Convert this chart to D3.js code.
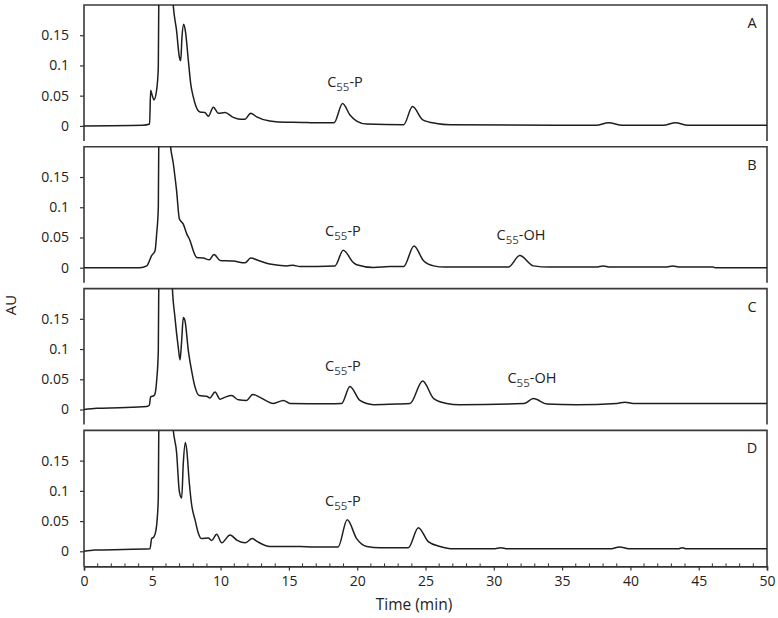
<!DOCTYPE html>
<html lang="en">
<head>
    <meta charset="UTF-8">
    <title>Chromatograms</title>
    <style>
        * { margin:0; border:0; box-sizing:border-box; }
        body { background:#fff; }
        svg text { font-family:"Open Sans", "DejaVu Sans", sans-serif; fill:#222; }
    </style>
    <script src="https://unpkg.com/d3@7.6.1/dist/d3.min.js"></script>
    <script>
        // panel names
        const panels=["A","B","C","D"];

        // retention time (min) and absorbance (AU) per trace
        const timeA=[0,4.3,4.8,4.88,5.0,5.12,5.32,5.44,5.5,6.0,6.5,6.78,6.98,7.08,7.17,7.3,7.42,7.64,7.81,8.0,8.2,8.49,8.86,9.1,9.47,9.83,10.32,10.93,11.42,11.79,12.2,12.64,13.6,14.8,15.3,17.3,18.3,18.93,19.47,19.96,20.7,23.4,24.05,24.8,25.8,26.8,37.5,38.4,39.4,42.4,43.3,44.2,50];
        const auA=[0,0.001,0.003,0.059,0.05,0.043,0.06,0.097,0.3,1.5,0.21,0.157,0.114,0.108,0.146,0.168,0.157,0.108,0.07,0.048,0.032,0.023,0.022,0.016,0.031,0.021,0.022,0.014,0.011,0.011,0.021,0.015,0.008,0.006,0.006,0.005,0.005,0.037,0.018,0.008,0.003,0.002,0.032,0.01,0.004,0.002,0.001,0.005,0.001,0.001,0.005,0.001,0.001];

        const timeB=[0,4.1,4.59,4.95,5.2,5.32,5.44,5.5,5.9,6.3,6.54,6.78,6.98,7.27,7.52,7.76,8.0,8.25,8.73,9.17,9.52,9.96,10.93,11.79,12.2,12.76,13.6,14.84,15.3,15.8,18.37,18.98,19.7,19.96,21.2,22.4,23.4,24.16,24.84,25.6,26.4,31.07,31.9,32.9,34.1,37.5,38.0,38.5,42.6,43.1,43.6,46.07,46.2,50];
        const auB=[0,0,0.003,0.02,0.028,0.056,0.1,0.3,1.5,0.21,0.172,0.127,0.081,0.072,0.056,0.045,0.028,0.017,0.016,0.013,0.022,0.012,0.011,0.008,0.016,0.012,0.006,0.003,0.004,0.002,0.003,0.029,0.009,0.005,0.0005,0.002,0.002,0.036,0.012,0.003,0.001,0.001,0.02,0.003,0.001,0.001,0.003,0.001,0.001,0.003,0.001,0.001,0,0];

        const timeC=[0,0.92,2.6,4.59,4.78,4.88,5.12,5.2,5.32,5.44,5.5,6.0,6.45,6.66,6.9,7.03,7.15,7.27,7.39,7.64,7.88,8.13,8.44,8.98,9.22,9.59,9.96,10.3,10.8,11.3,11.9,12.35,12.88,13.86,14.6,15.08,17.8,18.86,19.47,20.2,21.2,22.9,23.87,24.79,25.6,26.55,27.5,32.2,32.9,33.9,36.06,39.0,39.6,40.2,50];
        const auC=[0,0.002,0.003,0.005,0.007,0.021,0.023,0.026,0.048,0.097,0.3,1.5,0.21,0.152,0.103,0.082,0.114,0.152,0.147,0.097,0.064,0.037,0.023,0.022,0.019,0.029,0.017,0.02,0.023,0.016,0.015,0.025,0.02,0.01,0.015,0.01,0.0094,0.01,0.038,0.015,0.008,0.009,0.01,0.047,0.018,0.01,0.008,0.01,0.018,0.009,0.008,0.01,0.012,0.01,0.01];

        const timeD=[0,0.8,2.88,4.83,4.95,5.12,5.27,5.37,5.44,5.5,6.0,6.5,6.78,6.98,7.15,7.27,7.42,7.52,7.71,7.88,8.13,8.37,8.61,9.1,9.35,9.71,10.08,10.69,11.22,11.79,12.32,12.69,13.6,15.8,16.8,18.6,19.27,19.96,20.7,21.7,23.74,24.48,25.2,26.06,27.03,30.0,30.5,31.0,38.5,39.2,40.0,43.5,43.8,44.1,50];
        const auD=[0,0.002,0.003,0.004,0.021,0.024,0.035,0.057,0.09,0.3,1.5,0.21,0.163,0.099,0.088,0.146,0.18,0.168,0.113,0.077,0.052,0.03,0.021,0.022,0.018,0.028,0.014,0.027,0.018,0.014,0.021,0.016,0.008,0.008,0.007,0.007,0.052,0.021,0.008,0.006,0.006,0.039,0.016,0.008,0.004,0.004,0.006,0.004,0.004,0.007,0.004,0.004,0.006,0.004,0.004];

        // peak annotations: panel, compound suffix, time, AU
        const peakPanel=["A","B","B","C","C","D"];
        const peakName=["P","P","OH","P","OH","P"];
        const peakTime=[17.8,17.65,30.2,17.65,31.0,17.65];
        const peakAU=[0.064,0.053,0.045,0.064,0.044,0.075];

        const xTicks=[0,5,10,15,20,25,30,35,40,45,50];
        const yTicks=[0,0.05,0.1,0.15];
    </script>
</head>
<body>
    <div id="chart"></div>
    <script>
        const width=778;
        const height=618;
        const marginLeft=84;
        const marginRight=11;
        const panelTop=5;
        const panelStep=141.8;
        const panelHeight=136;

        const traces=[[timeA,auA],[timeB,auB],[timeC,auC],[timeD,auD]];

        const xScale=d3.scaleLinear([0,50],[marginLeft,width-marginRight]);

        const svg=d3.select("#chart").append("svg")
            .attr("width",width)
            .attr("height",height);

        panels.forEach((name,i)=>{
            const top=panelTop+i*panelStep;
            const yScale=d3.scaleLinear([-0.025,0.2],[top+panelHeight,top]);
            const g=svg.append("g");

            g.append("clipPath").attr("id","clip"+name)
              .append("rect")
                .attr("x",marginLeft).attr("y",top)
                .attr("width",width-marginRight-marginLeft).attr("height",panelHeight);

            // y axis
            const yAxis=d3.axisLeft(yScale).tickValues(yTicks).tickSize(4).tickPadding(11)
                .tickFormat(d=>d3.format("")(+d.toFixed(2)));
            g.append("g")
                .attr("transform",`translate(${marginLeft},0)`)
                .call(yAxis)
                .call(a=>a.select(".domain").remove())
                .call(a=>a.selectAll(".tick line").attr("stroke","#333").attr("stroke-width",1.2))
                .call(a=>a.selectAll(".tick text").attr("font-size",14).attr("fill","#222"));

            // frame: top, left, right
            g.append("path")
                .attr("d",`M${marginLeft},${top+panelHeight}V${top}H${width-marginRight}V${top+panelHeight}`)
                .attr("fill","none")
                .attr("stroke","#3a3a3a")
                .attr("stroke-width",1.6);

            const [T,V]=traces[i];
            const line=d3.line()
                .x((d,k)=>xScale(T[k]))
                .y((d,k)=>yScale(V[k]))
                .curve(d3.curveMonotoneX);
            g.append("path")
                .datum(T)
                .attr("clip-path",`url(#clip${name})`)
                .attr("d",line)
                .attr("fill","none")
                .attr("stroke","#1e1e1e")
                .attr("stroke-width",1.5)
                .attr("stroke-linejoin","round");

            g.append("text")
                .attr("x",xScale(48.9))
                .attr("y",top+23)
                .attr("text-anchor","middle")
                .attr("font-size",14.5)
                .text(name);

            peakPanel.forEach((p,k)=>{
                if(p!==name) return;
                const t=g.append("text")
                    .attr("x",xScale(peakTime[k]))
                    .attr("y",yScale(peakAU[k]))
                    .attr("font-size",14.5);
                t.append("tspan").text("C");
                t.append("tspan").attr("font-size",11.5).attr("dy",4).attr("fill","#444").text("55");
                t.append("tspan").attr("dy",-4).text("-"+peakName[k]);
            });

            if(i===panels.length-1){
                const axisY=top+panelHeight;
                const xAxis=d3.axisBottom(xScale).tickValues(xTicks).tickSize(4).tickPadding(6);
                g.append("g")
                    .attr("transform",`translate(0,${axisY})`)
                    .call(xAxis)
                    .call(a=>a.select(".domain").attr("stroke","#333").attr("stroke-width",1.6))
                    .call(a=>a.selectAll(".tick line").attr("stroke","#333").attr("stroke-width",1.2))
                    .call(a=>a.selectAll(".tick text").attr("font-size",14).attr("fill","#222"));
                // minor ticks, pointing inward
                g.append("g")
                    .selectAll("line")
                    .data(d3.range(0,51).filter(v=>v%5!==0))
                    .join("line")
                      .attr("x1",d=>xScale(d)).attr("x2",d=>xScale(d))
                      .attr("y1",axisY).attr("y2",axisY-3)
                      .attr("stroke","#333");
                svg.append("text")
                    .attr("x",414)
                    .attr("y",axisY+44)
                    .attr("text-anchor","middle")
                    .attr("font-size",15.5)
                    .text("Time (min)");
            }
        });

        svg.append("text")
            .attr("transform",`translate(16,${305}) rotate(-90)`)
            .attr("text-anchor","middle")
            .attr("font-size",15)
            .text("AU");
    </script>
</body>
</html>
